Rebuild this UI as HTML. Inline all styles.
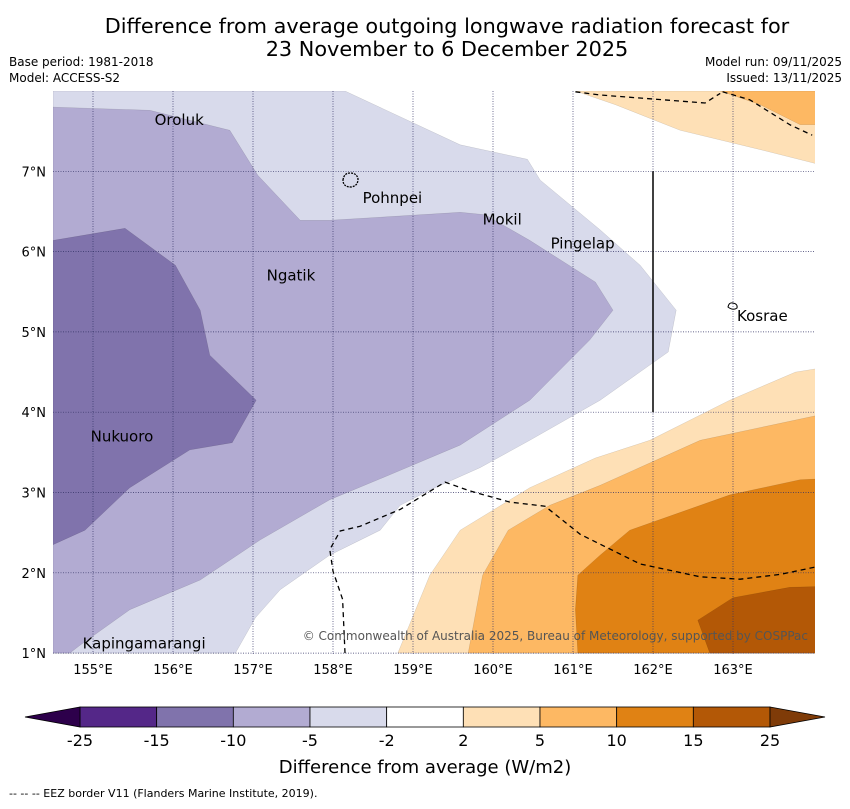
<!DOCTYPE html>
<html><head><meta charset="utf-8"><style>
body{margin:0;background:#fff;font-family:"Liberation Sans","DejaVu Sans",sans-serif;}
#c{position:relative;width:850px;height:804px;}
</style></head><body>
<div id="c">
<svg id="s" width="850" height="804" xmlns="http://www.w3.org/2000/svg" style="font-family:'DejaVu Sans','Liberation Sans',sans-serif">
<text x="447" y="33" text-anchor="middle" font-size="20.8">Difference from average outgoing longwave radiation forecast for</text>
<text x="447" y="56" text-anchor="middle" font-size="20.8">23 November to 6 December 2025</text>
<text x="9" y="66" font-size="12">Base period: 1981-2018</text>
<text x="9" y="82" font-size="12">Model: ACCESS-S2</text>
<text x="842" y="66" font-size="12" text-anchor="end">Model run: 09/11/2025</text>
<text x="842" y="82" font-size="12" text-anchor="end">Issued: 13/11/2025</text>
<defs><clipPath id="clip"><rect x="53" y="91" width="762" height="563"/></clipPath></defs>
<g id="map" clip-path="url(#clip)"></g>
<g id="axes"></g>
<g id="cbar"></g>
<text x="425" y="773" text-anchor="middle" font-size="18">Difference from average (W/m2)</text>
<text x="9" y="797" font-size="11">--  --  -- EEZ border V11 (Flanders Marine Institute, 2019).</text>
</svg>
</div>
<script>
const lonTicks=[155,156,157,158,159,160,161,162,163];
const latTicks=[1,2,3,4,5,6,7];
const levelEdges=[-25,-15,-10,-5,-2,2,5,10,15,25];
const levelColors=["#542788","#8073ac","#b2abd2","#d8daeb","#ffffff","#fee0b6","#fdb863","#e08214","#b35806"];
const regionMinus5=[[158.15,8],[159.59,7.33],[160.43,7.15],[160.59,6.89],[161.34,6.27],[161.84,5.83],[162.29,5.27],[162.19,4.75],[161.34,4.15],[160.46,3.65],[159.84,3.31],[159.21,3.03],[158.84,2.84],[158.59,2.53],[157.96,2.22],[157.34,1.79],[157.03,1.44],[156.78,1],[154.5,1],[154.5,8]];
const regionMinus10=[[154.5,7.8],[155.71,7.76],[156.71,7.51],[157.06,6.95],[157.59,6.39],[157.96,6.39],[159.59,6.49],[159.9,6.46],[160.46,6.14],[161.28,5.62],[161.5,5.27],[161.21,4.9],[160.46,4.15],[159.59,3.59],[158.71,3.22],[157.96,2.91],[157.09,2.41],[156.34,1.91],[155.46,1.54],[154.84,1.1],[154.71,1],[154.5,1]];
const regionMinus15=[[154.5,6.14],[155.4,6.29],[156.03,5.83],[156.34,5.27],[156.46,4.71],[157.04,4.15],[156.74,3.62],[156.21,3.53],[155.46,3.06],[154.9,2.53],[154.5,2.35]];
const regionPlus2=[[158.81,1],[159.21,1.97],[159.59,2.53],[160.46,3.06],[161.28,3.43],[161.96,3.65],[162.96,4.15],[163.78,4.5],[164.1,4.55],[164.1,1]];
const regionPlus5=[[159.69,1],[159.87,1.97],[160.19,2.53],[160.71,2.84],[161.34,3.09],[162.59,3.65],[164.1,3.97],[164.1,1]];
const regionPlus10=[[161.06,1],[161.03,1.54],[161.06,1.97],[161.34,2.22],[161.71,2.53],[162.96,2.97],[163.84,3.16],[164.1,3.17],[164.1,1]];
const regionPlus15=[[162.71,1],[162.56,1.41],[163,1.69],[163.71,1.82],[164.1,1.83],[164.1,1]];
const regionTopPlus2=[[161.03,8],[161.53,7.83],[162.34,7.51],[163.34,7.27],[164.1,7.08],[164.1,8]];
const regionTopPlus5=[[162.84,8],[163.34,7.83],[163.84,7.58],[164.1,7.58],[164.1,8]];
const eezTop1=[[161.03,7.99],[161.34,7.95],[162.65,7.85],[162.84,7.97]];
const eezTop2=[[162.87,7.99],[163.21,7.89],[163.71,7.58],[163.99,7.45]];
const eezBottom=[[158.15,1],[158.12,1.67],[158,2.02],[157.96,2.29],[158.09,2.52],[158.34,2.58],[158.84,2.79],[159.4,3.13],[159.71,3.02],[160.21,2.88],[160.65,2.83],[161.09,2.48],[161.84,2.11],[162.59,1.95],[163.09,1.92],[163.59,1.98],[164.02,2.07]];
const boundaryLine=[[162,7],[162,4]];
const places=[["Oroluk",155.77,7.64],["Pohnpei",158.37,6.67],["Mokil",159.87,6.4],["Pingelap",160.72,6.1],["Ngatik",157.17,5.7],["Kosrae",163.05,5.2],["Nukuoro",154.97,3.7],["Kapingamarangi",154.87,1.12]];
const NS="http://www.w3.org/2000/svg";
const X=lon=>53+(lon-154.5)*80;
const Y=lat=>91+(8-lat)*80.3;
const map=document.getElementById('map'),axes=document.getElementById('axes'),cbar=document.getElementById('cbar');
function mk(t,a,p){const e=document.createElementNS(NS,t);for(const k in a)e.setAttribute(k,a[k]);p.appendChild(e);return e;}
const pts=arr=>arr.map(p=>X(p[0]).toFixed(1)+','+Y(p[1]).toFixed(1)).join(' ');
const regions=[[regionMinus5,3,'region-minus5'],[regionMinus10,2,'region-minus10'],[regionMinus15,1,'region-minus15'],[regionPlus2,5,'region-plus2'],[regionPlus5,6,'region-plus5'],[regionPlus10,7,'region-plus10'],[regionPlus15,8,'region-plus15'],[regionTopPlus2,5,'region-top-plus2'],[regionTopPlus5,6,'region-top-plus5']];
regions.forEach(r=>{const e=mk('polygon',{points:pts(r[0]),fill:levelColors[r[1]],stroke:'#000','stroke-width':0.2,'stroke-opacity':0.4},map);

});
lonTicks.forEach(l=>{const e=mk('line',{x1:X(l),x2:X(l),y1:91,y2:654,stroke:'#333366','stroke-width':0.7,'stroke-dasharray':'1,1.5'},map);


const t=mk('text',{x:X(l),y:674,'text-anchor':'middle','font-size':13},axes);t.textContent=l+'°E';

});
latTicks.forEach(l=>{const e=mk('line',{x1:53,x2:815,y1:Y(l),y2:Y(l),stroke:'#333366','stroke-width':0.7,'stroke-dasharray':'1,1.5'},map);


const t=mk('text',{x:46,y:Y(l)+5,'text-anchor':'end','font-size':13},axes);t.textContent=l+'°N';

});
[eezTop1,eezTop2,eezBottom].forEach(a=>{const e=mk('polyline',{points:pts(a),fill:'none',stroke:'#000','stroke-width':1.3,'stroke-dasharray':'5,4'},map);

});
const bl=mk('polyline',{points:pts(boundaryLine),fill:'none',stroke:'#000','stroke-width':1.5},map);


const po=mk('path',{d:'M343,180 q1,-7 7,-7 q7,0 8,6 q0,7 -7,8 q-8,0 -8,-7z',fill:'none',stroke:'#000','stroke-width':1.3,'stroke-dasharray':'2,1'},map);


const ko=mk('path',{d:'M728,307 q1,-5 5,-4 q5,1 4,5 q-4,3 -9,-1z',fill:'none',stroke:'#000','stroke-width':1},map);


places.forEach(p=>{const t=mk('text',{x:X(p[1]),y:Y(p[2])+5,'font-size':15},map);t.textContent=p[0];

});
const cr=mk('text',{x:808,y:640,'text-anchor':'end','font-size':12,fill:'#555'},map);cr.textContent='© Commonwealth of Australia 2025, Bureau of Meteorology, supported by COSPPac';


const bx=i=>80+i*(690/9);
levelColors.forEach((c,i)=>{const e=mk('rect',{x:bx(i),y:707,width:690/9,height:20,fill:c,stroke:'#000','stroke-width':0.8},cbar);

});
const lt=mk('polygon',{points:'80,707 25,717 80,727',fill:'#2d004b',stroke:'#000','stroke-width':0.8},cbar);


const rt=mk('polygon',{points:'770,707 825,717 770,727',fill:'#7f3b08',stroke:'#000','stroke-width':0.8},cbar);


levelEdges.forEach((v,i)=>{const t=mk('text',{x:bx(i),y:746,'text-anchor':'middle','font-size':16},cbar);t.textContent=v;

});
</script>
</body></html>
